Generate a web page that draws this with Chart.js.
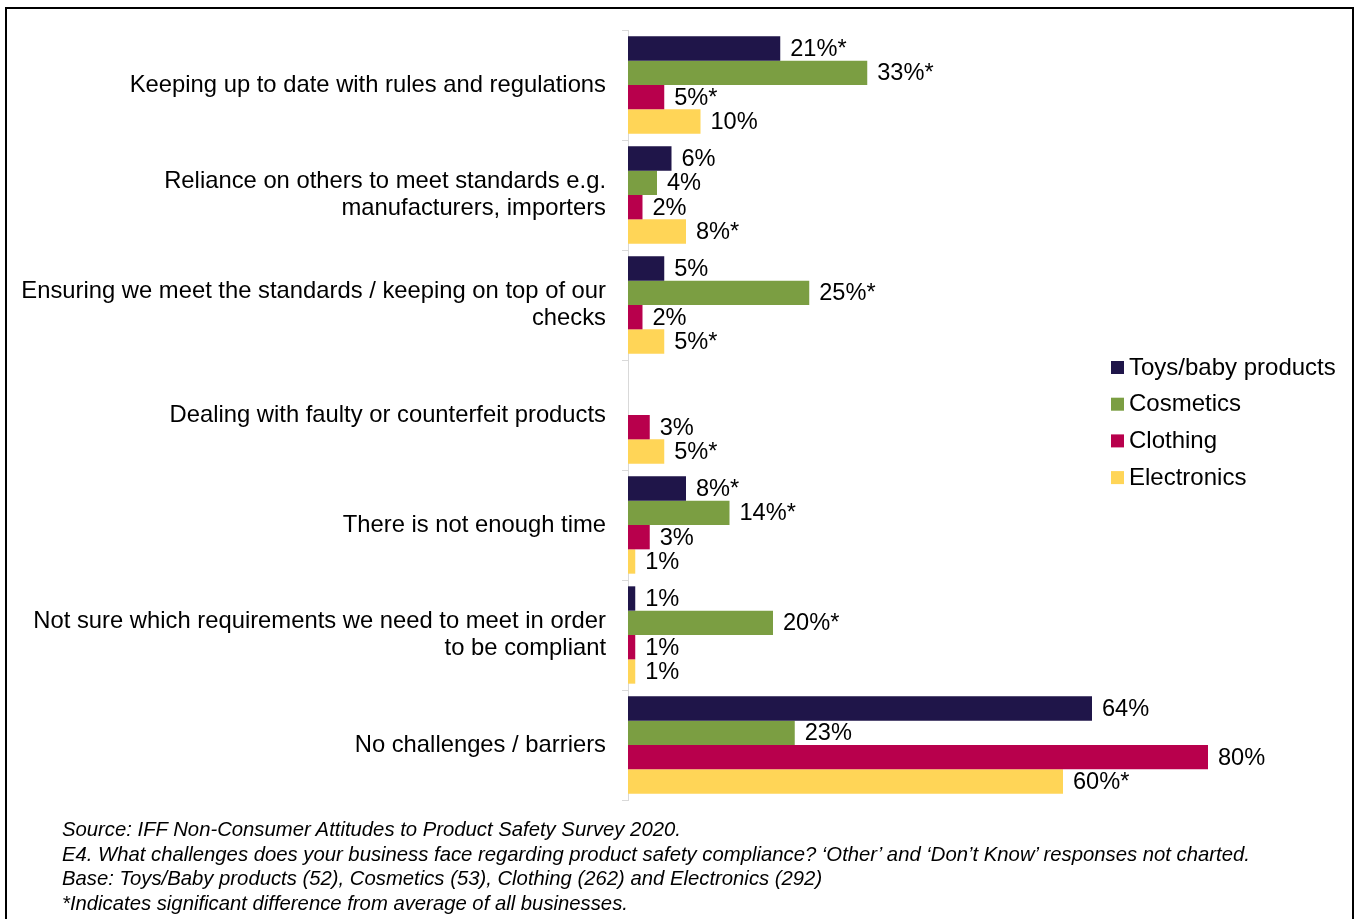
<!DOCTYPE html>
<html lang="en">
<head>
    <meta charset="UTF-8">
    <title>Product safety compliance challenges</title>
    <script src="https://cdn.jsdelivr.net/npm/chart.js"></script>
    <style>
        html, body { margin: 0; padding: 0; background: #fff; overflow: hidden; }
        #frame {
            position: absolute; left: 5px; top: 7px; width: 1345px; height: 940px;
            border: 2px solid #000; border-bottom: none;
        }
        #chartWrap { position: absolute; left: 0; top: 0; width: 1359px; height: 919px; }
        #notes {
            position: absolute; left: 62px; top: 817px;
            font-family: "Liberation Sans", Arial, sans-serif; font-style: italic;
            font-size: 20.3px; line-height: 24.5px; color: #000; white-space: nowrap;
        }
    </style>
</head>
<body>
<div id="frame"></div>
<div id="chartWrap"><canvas id="chart" width="1359" height="919"></canvas></div>
<div id="notes">
    Source: IFF Non-Consumer Attitudes to Product Safety Survey 2020.<br>
    E4. What challenges does your business face regarding product safety compliance? ‘Other’ and ‘Don’t Know’ responses not charted.<br>
    Base: Toys/Baby products (52), Cosmetics (53), Clothing (262) and Electronics (292)<br>
    *Indicates significant difference from average of all businesses.
</div>
<script>
    var categories = [
        'Keeping up to date with rules and regulations',
        ['Reliance on others to meet standards e.g.', 'manufacturers, importers'],
        ['Ensuring we meet the standards / keeping on top of our', 'checks'],
        'Dealing with faulty or counterfeit products',
        'There is not enough time',
        ['Not sure which requirements we need to meet in order', 'to be compliant'],
        'No challenges / barriers'
    ];

    var toys        = [21, 6, 5, null, 8, 1, 64];
    var cosmetics   = [33, 4, 25, null, 14, 20, 23];
    var clothing    = [5, 2, 2, 3, 3, 1, 80];
    var electronics = [10, 8, 5, 5, 1, 1, 60];

    // 1 = significant difference from the all-business average (shown with *)
    var toysSig        = [1, 0, 0, 0, 1, 0, 0];
    var cosmeticsSig   = [1, 0, 1, 0, 1, 1, 0];
    var clothingSig    = [1, 0, 0, 0, 0, 0, 0];
    var electronicsSig = [0, 1, 1, 1, 0, 0, 1];

    var FONT = '"Liberation Sans", Arial, sans-serif';

    // percentage labels at the end of each bar
    var valueLabels = {
        id: 'valueLabels',
        afterDatasetsDraw: function(chart) {
            var ctx = chart.ctx;
            ctx.save();
            ctx.font = '23.6px ' + FONT;
            ctx.fillStyle = '#000';
            ctx.textAlign = 'left';
            ctx.textBaseline = 'middle';
            chart.data.datasets.forEach(function(ds, i) {
                var meta = chart.getDatasetMeta(i);
                meta.data.forEach(function(bar, j) {
                    if (ds.data[j] == null) return;
                    var txt = ds.data[j] + '%' + (ds.sig[j] ? '*' : '');
                    ctx.fillText(txt, bar.x + 10, bar.y + 1);
                });
            });
            ctx.restore();
        }
    };

    // legend block on the right
    var sideLegend = {
        id: 'sideLegend',
        afterDraw: function(chart) {
            var ctx = chart.ctx;
            ctx.save();
            ctx.font = '24px ' + FONT;
            ctx.textAlign = 'left';
            ctx.textBaseline = 'middle';
            chart.data.datasets.forEach(function(ds, i) {
                var y = 367 + i * 36.7;
                ctx.fillStyle = ds.backgroundColor;
                ctx.fillRect(1111, y - 6, 13, 13);
                ctx.fillStyle = '#000';
                ctx.fillText(ds.label, 1129, y + 1);
            });
            ctx.restore();
        }
    };

    var ctx = document.getElementById('chart').getContext('2d');
    var chart = new Chart(ctx, {
        type: 'bar',
        data: {
            labels: categories,
            datasets: [
                { label: 'Toys/baby products', data: toys, sig: toysSig, backgroundColor: '#1F1549' },
                { label: 'Cosmetics', data: cosmetics, sig: cosmeticsSig, backgroundColor: '#7B9E42' },
                { label: 'Clothing', data: clothing, sig: clothingSig, backgroundColor: '#B8004C' },
                { label: 'Electronics', data: electronics, sig: electronicsSig, backgroundColor: '#FFD557' }
            ]
        },
        options: {
            indexAxis: 'y',
            responsive: false,
            animation: false,
            layout: { padding: { top: 30, bottom: 119, right: 151, left: 0 } },
            datasets: { bar: { categoryPercentage: 0.885, barPercentage: 1.0 } },
            plugins: { legend: { display: false }, tooltip: { enabled: false } },
            scales: {
                x: { display: false, min: 0, max: 80 },
                y: {
                    afterFit: function(scale) { scale.width = 628; },
                    border: { display: true, color: '#d9d9d9', width: 1 },
                    grid: { drawOnChartArea: false, drawTicks: true, tickLength: 6, color: '#d9d9d9' },
                    ticks: {
                        color: '#000',
                        padding: 16,
                        crossAlign: 'near',
                        autoSkip: false,
                        font: { family: FONT, size: 23.8, lineHeight: 1.14 }
                    }
                }
            }
        },
        plugins: [valueLabels, sideLegend]
    });
</script>
</body>
</html>
